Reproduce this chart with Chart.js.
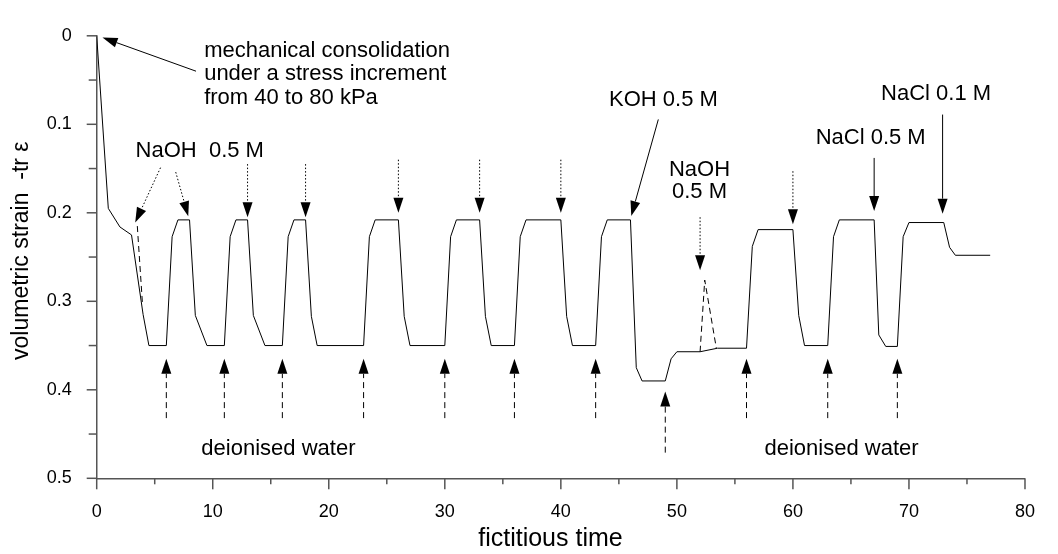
<!DOCTYPE html>
<html>
<head>
<meta charset="utf-8">
<script src="https://cdn.jsdelivr.net/npm/chart.js@4.4.1/dist/chart.umd.min.js"></script>
<style>
  html, body { margin: 0; padding: 0; background: #fff; }
</style>
</head>
<body>
<canvas id="chart" width="1058" height="554"></canvas>
<script>
// strain path
const timeX = [0, 1, 2, 3, 4, 4.5, 6, 6.5, 7, 8, 8.5, 9.5, 11, 11.5, 12, 13, 13.5, 14.5,
  16, 16.5, 17, 18, 18.5, 19, 23, 23.5, 24, 26, 26.5, 27, 30, 30.5, 31, 33, 33.5, 34,
  36, 36.5, 37, 40, 40.5, 41, 43, 43.5, 44, 46, 46.5, 47, 49, 49.5, 50, 52, 53.5, 56,
  56.5, 57, 60, 60.5, 61, 63, 63.5, 64, 67, 67.4, 68, 69, 69.5, 70, 73, 73.5, 74, 77];
const strain = [0, 0.195, 0.216, 0.225, 0.315, 0.35, 0.35, 0.227, 0.208, 0.208, 0.316, 0.35, 0.35, 0.227, 0.208, 0.208, 0.316, 0.35,
  0.35, 0.227, 0.208, 0.208, 0.317, 0.35, 0.35, 0.227, 0.208, 0.208, 0.317, 0.35, 0.35, 0.227, 0.208, 0.208, 0.317, 0.35,
  0.35, 0.227, 0.208, 0.208, 0.317, 0.35, 0.35, 0.227, 0.208, 0.208, 0.375, 0.39, 0.39, 0.365, 0.357, 0.357, 0.353, 0.353,
  0.238, 0.219, 0.219, 0.316, 0.35, 0.35, 0.227, 0.208, 0.208, 0.338, 0.351, 0.351, 0.227, 0.211, 0.211, 0.239, 0.248, 0.248];

// dashed side paths
const dashAX = [3.5, 3.95];
const dashAY = [0.215, 0.304];
const dashBX = [52, 52.4, 53.4];
const dashBY = [0.357, 0.276, 0.353];

// x tick labels every 10, y tick labels every 0.1
const xMajor = [0, 10, 20, 30, 40, 50, 60, 70, 80];

// arrows: [tailX, tailY, tipX, tipY]
const solidArrows = [
  [8.56, 0.040, 0.5, 0.002],
  [48.4, 0.0945, 46.07, 0.2036],
  [67, 0.138, 67, 0.198],
  [72.9, 0.089, 72.9, 0.201]
];
const dottedArrows = [
  [5.5, 0.149, 3.32, 0.211],
  [6.81, 0.154, 7.89, 0.204],
  [13, 0.145, 13, 0.205],
  [18, 0.145, 18, 0.205],
  [26, 0.14, 26, 0.2],
  [33, 0.14, 33, 0.2],
  [40, 0.14, 40, 0.2],
  [52, 0.205, 52, 0.265],
  [60, 0.153, 60, 0.213]
];
const waterTimes = [6, 11, 16, 23, 30, 36, 43, 56, 63, 69];
const dashedArrows = waterTimes.map((t) => [t, 0.432, t, 0.365]).concat([[49, 0.471, 49, 0.402]]);

// labels: [text, x, y(baseline), align]
const labels = [
  ["mechanical consolidation", 9.26, 0.0237, "left"],
  ["under a stress increment", 9.26, 0.0504, "left"],
  ["from 40 to 80 kPa", 9.26, 0.0765, "left"],
  ["NaOH  0.5 M", 8.88, 0.137, "center"],
  ["KOH 0.5 M", 48.84, 0.079, "center"],
  ["NaOH", 51.95, 0.158, "center"],
  ["0.5 M", 51.95, 0.1836, "center"],
  ["NaCl 0.5 M", 66.7, 0.1218, "center"],
  ["NaCl 0.1 M", 72.34, 0.0727, "center"],
  ["deionised water", 15.66, 0.4737, "center"],
  ["deionised water", 64.19, 0.4737, "center"]
];

const FONT = "'Liberation Sans', Arial, sans-serif";
const AXIS_COLOR = "#555";

function toPoints(xs, ys) {
  return xs.map((x, i) => ({ x: x, y: ys[i] }));
}

function drawArrow(ctx, x1, y1, x2, y2, dash) {
  const ang = Math.atan2(y2 - y1, x2 - x1);
  const len = 15, half = 5;
  const bx = x2 - len * Math.cos(ang), by = y2 - len * Math.sin(ang);
  ctx.save();
  ctx.strokeStyle = "#000";
  ctx.fillStyle = "#000";
  ctx.lineWidth = 1;
  ctx.setLineDash(dash);
  ctx.beginPath();
  ctx.moveTo(x1, y1);
  ctx.lineTo(bx, by);
  ctx.stroke();
  ctx.setLineDash([]);
  ctx.beginPath();
  ctx.moveTo(x2, y2);
  ctx.lineTo(bx + half * Math.sin(ang), by - half * Math.cos(ang));
  ctx.lineTo(bx - half * Math.sin(ang), by + half * Math.cos(ang));
  ctx.closePath();
  ctx.fill();
  ctx.restore();
}

const annotations = {
  id: "annotations",
  afterDraw(chart) {
    const ctx = chart.ctx;
    const xs = chart.scales.x, ys = chart.scales.y;
    const area = chart.chartArea;

    // tick marks (major longer on x)
    ctx.save();
    ctx.strokeStyle = AXIS_COLOR;
    ctx.lineWidth = 1.5;
    for (let v = 0; v <= 80; v += 5) {
      const px = xs.getPixelForValue(v);
      const len = xMajor.includes(v) ? 11 : 6;
      ctx.beginPath();
      ctx.moveTo(px, area.bottom);
      ctx.lineTo(px, area.bottom + len);
      ctx.stroke();
    }
    for (let i = 0; i <= 10; i++) {
      const py = ys.getPixelForValue(i * 0.05);
      const len = i % 2 === 0 ? 10 : 8;
      ctx.beginPath();
      ctx.moveTo(area.left - len, py);
      ctx.lineTo(area.left, py);
      ctx.stroke();
    }
    ctx.restore();

    const P = (a) => [xs.getPixelForValue(a[0]), ys.getPixelForValue(a[1]), xs.getPixelForValue(a[2]), ys.getPixelForValue(a[3])];
    solidArrows.forEach((a) => { const p = P(a); drawArrow(ctx, p[0], p[1], p[2], p[3], []); });
    dottedArrows.forEach((a) => { const p = P(a); drawArrow(ctx, p[0], p[1], p[2], p[3], [1.5, 2]); });
    dashedArrows.forEach((a) => { const p = P(a); drawArrow(ctx, p[0], p[1], p[2], p[3], [6, 4]); });

    ctx.save();
    ctx.fillStyle = "#000";
    ctx.font = "22px " + FONT;
    ctx.textBaseline = "alphabetic";
    labels.forEach((l) => {
      ctx.textAlign = l[3];
      ctx.fillText(l[0], xs.getPixelForValue(l[1]), ys.getPixelForValue(l[2]));
    });
    ctx.restore();
  }
};

new Chart(document.getElementById("chart"), {
  type: "line",
  data: {
    datasets: [
      {
        data: toPoints(timeX, strain),
        borderColor: "#000",
        borderWidth: 1,
        pointRadius: 0,
        tension: 0
      },
      {
        data: toPoints(dashAX, dashAY),
        borderColor: "#000",
        borderWidth: 1,
        borderDash: [6, 4],
        pointRadius: 0
      },
      {
        data: toPoints(dashBX, dashBY),
        borderColor: "#000",
        borderWidth: 1,
        borderDash: [6, 4],
        pointRadius: 0
      }
    ]
  },
  options: {
    responsive: false,
    animation: false,
    devicePixelRatio: 1,
    layout: { padding: { top: 18.3, right: 15, left: 0, bottom: 0 } },
    plugins: {
      legend: { display: false },
      tooltip: { enabled: false }
    },
    scales: {
      x: {
        type: "linear",
        min: 0,
        max: 80,
        grid: { display: false, drawTicks: false },
        border: { display: true, color: AXIS_COLOR, width: 1.5 },
        ticks: {
          stepSize: 5,
          autoSkip: false,
          maxRotation: 0,
          padding: 23,
          color: "#000",
          font: { family: FONT, size: 18 },
          callback: (v) => (xMajor.includes(v) ? String(v) : "")
        },
        title: {
          display: true,
          // trailing spaces nudge the title left, as in the original
          text: "fictitious time   ",
          color: "#000",
          font: { family: FONT, size: 25 },
          padding: { top: 0, bottom: 0 }
        },
        afterFit: (scale) => { scale.height = 75.7; }
      },
      y: {
        type: "linear",
        reverse: true,
        min: 0,
        max: 0.5,
        grid: { display: false, drawTicks: false },
        border: { display: true, color: AXIS_COLOR, width: 1.5 },
        ticks: {
          stepSize: 0.05,
          autoSkip: false,
          padding: 25,
          color: "#000",
          font: { family: FONT, size: 18 },
          callback: (v) => {
            const t = Math.round(v * 100);
            if (t % 10 !== 0) return "";
            return t === 0 ? "0" : (t / 100).toFixed(1);
          }
        },
        title: {
          display: true,
          text: "  volumetric strain  -tr \u03b5",
          color: "#000",
          font: { family: FONT, size: 23 },
          padding: { top: 8, bottom: 0 }
        },
        afterFit: (scale) => { scale.width = 96.7; }
      }
    }
  },
  plugins: [annotations]
});
</script>
</body>
</html>
